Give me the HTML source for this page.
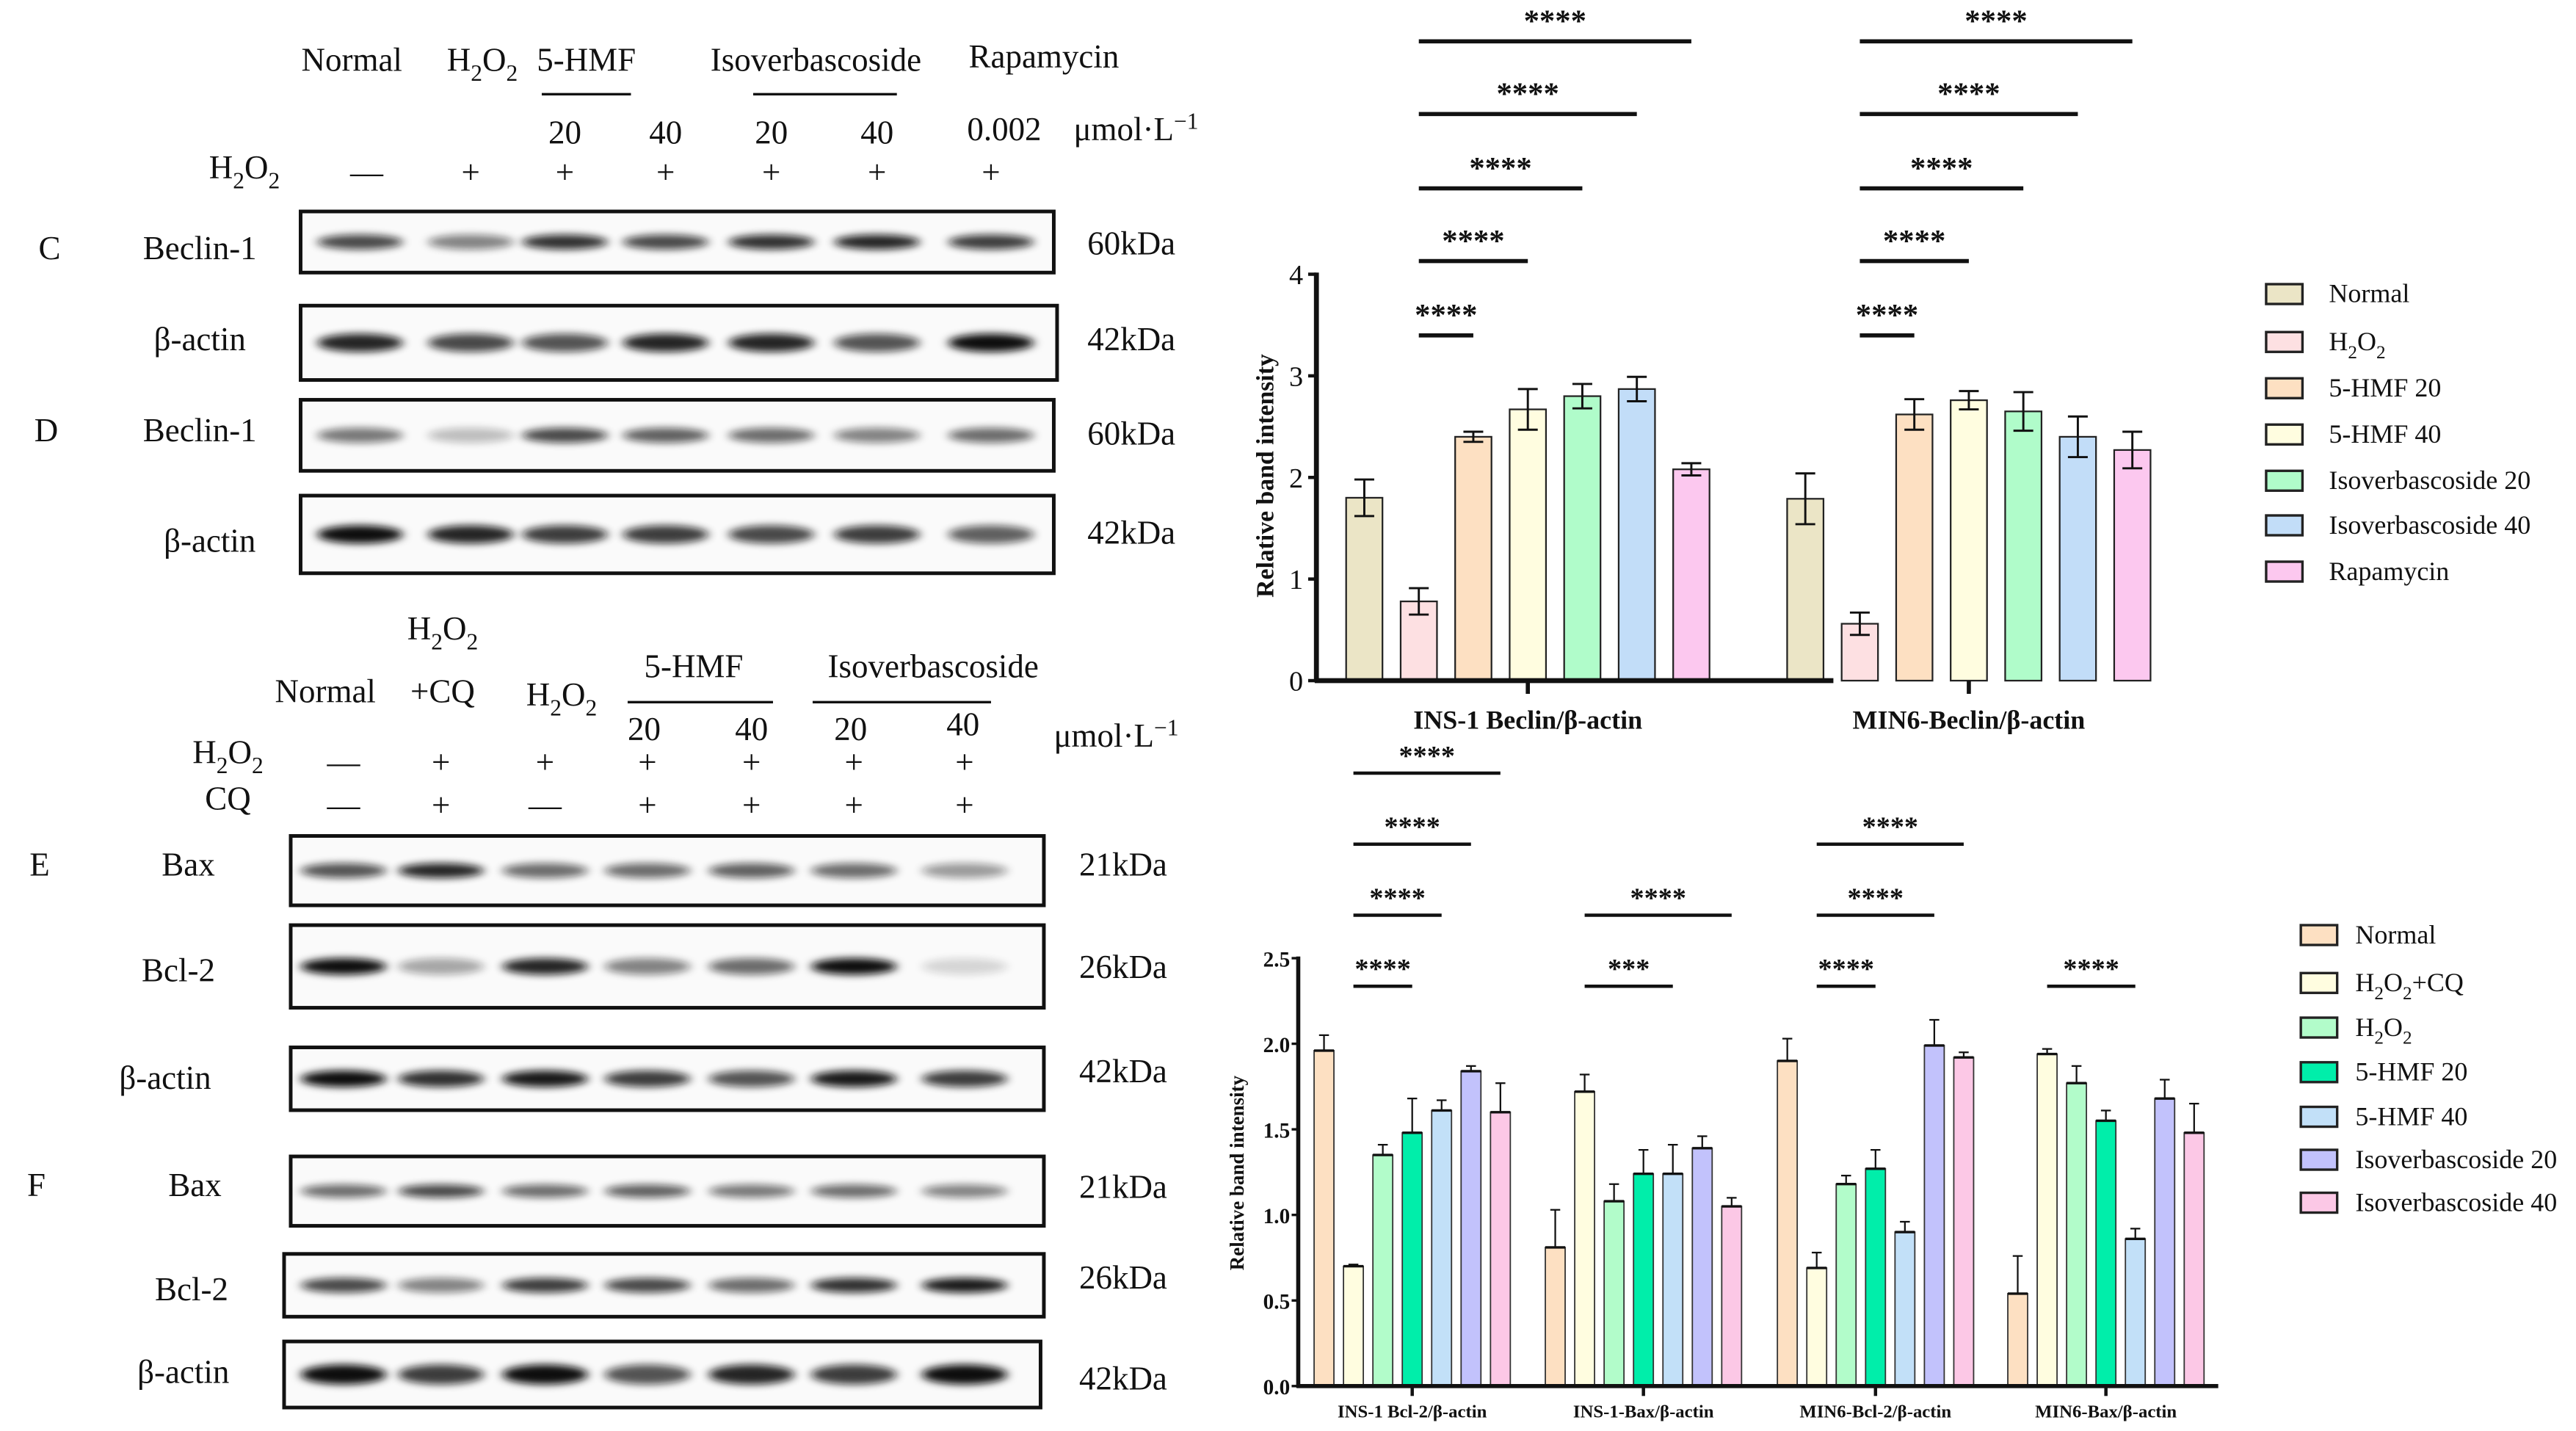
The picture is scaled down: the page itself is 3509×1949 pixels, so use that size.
<!DOCTYPE html>
<html><head><meta charset="utf-8"><style>
html,body{margin:0;padding:0;background:#fff;}
svg{display:block;}
svg text, svg tspan{font-family:"Liberation Serif","DejaVu Serif",serif;fill:#111;}
</style></head><body>
<svg id="fig" width="3509" height="1949" viewBox="0 0 1559.6 866.2" preserveAspectRatio="none" xmlns="http://www.w3.org/2000/svg" font-family="Liberation Serif, DejaVu Serif, serif">
<defs>
<filter id="blur" x="-50%" y="-200%" width="200%" height="500%"><feGaussianBlur stdDeviation="3 2.2"/></filter>
</defs>
<g id="blots"></g>
<g id="chart1"></g>
<g id="chart2"></g>
</svg>
<script>
// ---------- Chart 1 data ----------
const c1Categories = ["INS-1 Beclin/β-actin", "MIN6-Beclin/β-actin"];
const c1Series = ["Normal", "H2O2", "5-HMF 20", "5-HMF 40", "Isoverbascoside 20", "Isoverbascoside 40", "Rapamycin"];
const c1Values = [[1.80, 0.78, 2.40, 2.67, 2.80, 2.87, 2.08], [1.79, 0.56, 2.62, 2.76, 2.65, 2.40, 2.27]];
const c1Errors = [[0.18, 0.13, 0.05, 0.20, 0.12, 0.12, 0.06], [0.25, 0.11, 0.15, 0.09, 0.19, 0.20, 0.18]];
const c1Ticks = [0, 1, 2, 3, 4];
const c1Colors = ["#ebe5c6", "#fde0e2", "#fde0c2", "#fffde0", "#b0fcca", "#c2ddf8", "#fcc8ef"];
const c1Sig = [[1, 2, "****"], [1, 3, "****"], [1, 4, "****"], [1, 5, "****"], [1, 6, "****"]];

// ---------- Chart 2 data ----------
const c2Categories = ["INS-1 Bcl-2/β-actin", "INS-1-Bax/β-actin", "MIN6-Bcl-2/β-actin", "MIN6-Bax/β-actin"];
const c2Series = ["Normal", "H2O2+CQ", "H2O2", "5-HMF 20", "5-HMF 40", "Isoverbascoside 20", "Isoverbascoside 40"];
const c2Values = [[1.96, 0.70, 1.35, 1.48, 1.61, 1.84, 1.60], [0.81, 1.72, 1.08, 1.24, 1.24, 1.39, 1.05], [1.90, 0.69, 1.18, 1.27, 0.90, 1.99, 1.92], [0.54, 1.94, 1.77, 1.55, 0.86, 1.68, 1.48]];
const c2Errors = [[0.09, 0.01, 0.06, 0.20, 0.06, 0.03, 0.17], [0.22, 0.10, 0.10, 0.14, 0.17, 0.07, 0.05], [0.13, 0.09, 0.05, 0.11, 0.06, 0.15, 0.03], [0.22, 0.03, 0.10, 0.06, 0.06, 0.11, 0.17]];
const c2Ticks = [0, 0.5, 1.0, 1.5, 2.0, 2.5];
const c2Colors = ["#fde0c2", "#fffde0", "#b2fcca", "#00eeaa", "#c2e0f8", "#c2c2fc", "#fcc8e6"];
const c2Sig = [[0, 1, 3, "****"], [0, 1, 4, "****"], [0, 1, 5, "****"], [0, 1, 6, "****"], [1, 1, 4, "***"], [1, 1, 6, "****"], [2, 1, 3, "****"], [2, 1, 5, "****"], [2, 1, 6, "****"], [3, 1, 4, "****"]];

const NS = "http://www.w3.org/2000/svg";
const SERIF = '"Liberation Serif","DejaVu Serif",serif';
function mk(parent, tag, attrs, txt) {
  const e = document.createElementNS(NS, tag);
  if (tag === "text") e.setAttribute("style", "font-family:" + SERIF);
  for (const k in attrs) e.setAttribute(k, attrs[k]);
  if (txt !== undefined) e.textContent = txt;
  parent.appendChild(e);
  return e;
}
// parts: [text, isSub]
function subText(parent, x, y, parts, size, anchor) {
  const t = mk(parent, "text", {x: x, y: y, "font-size": size, "text-anchor": anchor || "middle"});
  const shift = size * 0.3;
  let cur = 0;
  parts.forEach(p => {
    const target = p[1] ? shift : 0;
    const a = {dy: target - cur, "font-size": p[1] ? size * 0.7 : size};
    cur = target;
    mk(t, "tspan", a, p[0]);
  });
  return t;
}
const H2O2 = [["H", 0], ["2", 1], ["O", 0], ["2", 1]];

// ---------- Chart 1 ----------
(function () {
  const g = document.getElementById("chart1");
  const x0 = 797, xEnd = 1110, y0 = 412, yTop = 166, yMax = 4;
  const centers = [925, 1192], step = 33, bw = 22;
  const yS = v => y0 - (v / yMax) * (y0 - yTop);
  const xS = (c, i) => centers[c] + (i - 3) * step;
  c1Categories.forEach((cat, c) => {
    c1Values[c].forEach((v, i) => {
      const b = mk(g, "rect", {x: xS(c, i) - bw / 2, y: yS(v), width: bw, height: y0 - yS(v), fill: c1Colors[i], stroke: "#222", "stroke-width": 1});
      
      
      const e = c1Errors[c][i], xc = xS(c, i);
      const eb = mk(g, "path", {d: `M${xc},${yS(v + e)}V${yS(v - e)}M${xc - 6},${yS(v + e)}H${xc + 6}M${xc - 6},${yS(v - e)}H${xc + 6}`, stroke: "#111", "stroke-width": 1.3, fill: "none"});
      
      
    });
    const lbl = mk(g, "text", {x: centers[c], y: 441, "font-size": 16, "font-weight": "bold", "text-anchor": "middle"}, cat);
    
    
    mk(g, "line", {x1: centers[c], x2: centers[c], y1: y0, y2: y0 + 8, stroke: "#111", "stroke-width": 2.5});
    const sigY = [203, 158, 114, 69, 25];
    c1Sig.forEach((s, k) => {
      const y = sigY[k], xa = xS(c, s[0]), xb = xS(c, s[1]);
      const l = mk(g, "line", {x1: xa, x2: xb, y1: y, y2: y, stroke: "#111", "stroke-width": 2.5});
      
      
      mk(g, "text", {x: (xa + xb) / 2, y: y - 6, "font-size": 19, "font-weight": "bold", "text-anchor": "middle"}, s[2]);
    });
  });
  mk(g, "line", {x1: x0, x2: x0, y1: yTop - 1, y2: y0 + 1, stroke: "#111", "stroke-width": 3});
  mk(g, "line", {x1: x0 - 1, x2: xEnd, y1: y0, y2: y0, stroke: "#111", "stroke-width": 3});
  c1Ticks.forEach(t => {
    mk(g, "line", {x1: x0 - 5, x2: x0, y1: yS(t), y2: yS(t), stroke: "#111", "stroke-width": 2});
    mk(g, "text", {x: x0 - 8, y: yS(t) + 6, "font-size": 17, "text-anchor": "end"}, String(t));
  });
  const yt = mk(g, "text", {x: 0, y: 0, "font-size": 15, "font-weight": "bold", "text-anchor": "middle", transform: "translate(771,288) rotate(-90)"}, "Relative band intensity");
  
  
  const ly = [178, 207, 235, 263, 291, 318, 346];
  c1Series.forEach((s, i) => {
    const le = mk(g, "rect", {x: 1372, y: ly[i] - 6, width: 22, height: 12, fill: c1Colors[i], stroke: "#222", "stroke-width": 1.5});
    
    
    if (s === "H2O2") subText(g, 1410, ly[i] + 5, H2O2, 16, "start");
    else mk(g, "text", {x: 1410, y: ly[i] + 5, "font-size": 16}, s);
  });
})();

// ---------- Chart 2 ----------
(function () {
  const g = document.getElementById("chart2");
  const x0 = 786, xEnd = 1343, y0 = 839, yTop = 580, yMax = 2.5;
  const centers = [855, 995, 1135.5, 1275], step = 17.8, bw = 12;
  const yS = v => y0 - (v / yMax) * (y0 - yTop);
  const xS = (c, i) => centers[c] + (i - 3) * step;
  c2Categories.forEach((cat, c) => {
    c2Values[c].forEach((v, i) => {
      const b = mk(g, "rect", {x: xS(c, i) - bw / 2, y: yS(v), width: bw, height: y0 - yS(v), fill: c2Colors[i], stroke: "#333", "stroke-width": 0.8});
      
      
      mk(g, "line", {x1: xS(c, i) - bw / 2, x2: xS(c, i) + bw / 2, y1: yS(v), y2: yS(v), stroke: "#111", "stroke-width": 1.5});
      const e = c2Errors[c][i], xc = xS(c, i);
      const eb = mk(g, "path", {d: `M${xc},${yS(v + e)}V${yS(v)}M${xc - 3},${yS(v + e)}H${xc + 3}`, stroke: "#111", "stroke-width": 1, fill: "none"});
      
      
    });
    const lbl = mk(g, "text", {x: centers[c], y: 858, "font-size": 11, "font-weight": "bold", "text-anchor": "middle"}, cat);
    
    
    mk(g, "line", {x1: centers[c], x2: centers[c], y1: y0, y2: y0 + 6, stroke: "#111", "stroke-width": 2});
  });
  const sigY = [597, 554, 511, 468];
  const level = {};
  c2Sig.forEach(s => {
    const c = s[0]; level[c] = (level[c] || 0);
    const y = sigY[level[c]]; level[c]++;
    const xa = xS(c, s[1]), xb = xS(c, s[2]);
    const l = mk(g, "line", {x1: xa, x2: xb, y1: y, y2: y, stroke: "#111", "stroke-width": 2});
    
    
    mk(g, "text", {x: (xa + xb) / 2, y: y - 5, "font-size": 17, "font-weight": "bold", "text-anchor": "middle"}, s[3]);
  });
  mk(g, "line", {x1: x0, x2: x0, y1: yTop - 1, y2: y0 + 1, stroke: "#111", "stroke-width": 2.5});
  mk(g, "line", {x1: x0 - 1, x2: xEnd, y1: y0, y2: y0, stroke: "#111", "stroke-width": 2.5});
  c2Ticks.forEach(t => {
    mk(g, "line", {x1: x0 - 4, x2: x0, y1: yS(t), y2: yS(t), stroke: "#111", "stroke-width": 1.5});
    mk(g, "text", {x: x0 - 5, y: yS(t) + 5, "font-size": 13, "font-weight": "bold", "text-anchor": "end"}, t.toFixed(1));
  });
  const yt = mk(g, "text", {x: 0, y: 0, "font-size": 12, "font-weight": "bold", "text-anchor": "middle", transform: "translate(753,710) rotate(-90)"}, "Relative band intensity");
  
  
  const ly = [566, 595, 622, 649, 676, 702, 728];
  c2Series.forEach((s, i) => {
    const le = mk(g, "rect", {x: 1393, y: ly[i] - 6, width: 22, height: 12, fill: c2Colors[i], stroke: "#222", "stroke-width": 1.5});
    
    
    if (s === "H2O2") subText(g, 1426, ly[i] + 5, H2O2, 16, "start");
    else if (s === "H2O2+CQ") subText(g, 1426, ly[i] + 5, H2O2.concat([["+CQ", 0]]), 16, "start");
    else mk(g, "text", {x: 1426, y: ly[i] + 5, "font-size": 16}, s);
  });
})();

// ---------- Western blots ----------
(function () {
  const g = document.getElementById("blots");
  const topLanes = [218, 285, 342, 403, 467, 531, 600];
  const botLanes = [208, 267, 330, 392, 455, 517, 584];
  const rows = [
    {x1: 182, x2: 638, y1: 128, y2: 165, lanes: topLanes, w: [0.75, 0.5, 0.85, 0.75, 0.85, 0.9, 0.8], h: 7, name: "blot-c-beclin1"},
    {x1: 182, x2: 640, y1: 185, y2: 230, lanes: topLanes, w: [0.9, 0.75, 0.7, 0.9, 0.9, 0.7, 1], h: 9, name: "blot-c-actin"},
    {x1: 182, x2: 638, y1: 242, y2: 285, lanes: topLanes, w: [0.55, 0.25, 0.75, 0.65, 0.6, 0.5, 0.6], h: 7, name: "blot-d-beclin1"},
    {x1: 182, x2: 638, y1: 300, y2: 347, lanes: topLanes, w: [1, 0.9, 0.8, 0.8, 0.75, 0.8, 0.65], h: 9, name: "blot-d-actin"},
    {x1: 176, x2: 632, y1: 506, y2: 548, lanes: botLanes, w: [0.7, 0.9, 0.6, 0.6, 0.65, 0.6, 0.4], h: 7, name: "blot-e-bax"},
    {x1: 176, x2: 632, y1: 560, y2: 610, lanes: botLanes, w: [1, 0.35, 0.9, 0.5, 0.6, 1, 0.15], h: 8, name: "blot-e-bcl2"},
    {x1: 176, x2: 632, y1: 634, y2: 672, lanes: botLanes, w: [1, 0.85, 0.95, 0.8, 0.7, 0.95, 0.8], h: 8, name: "blot-e-actin"},
    {x1: 176, x2: 632, y1: 700, y2: 742, lanes: botLanes, w: [0.6, 0.75, 0.6, 0.65, 0.55, 0.6, 0.5], h: 6, name: "blot-f-bax"},
    {x1: 172, x2: 632, y1: 759, y2: 797, lanes: botLanes, w: [0.75, 0.5, 0.8, 0.75, 0.6, 0.85, 0.95], h: 7, name: "blot-f-bcl2"},
    {x1: 172, x2: 630, y1: 812, y2: 852, lanes: botLanes, w: [1, 0.8, 1, 0.7, 0.9, 0.8, 1], h: 10, name: "blot-f-actin"}
  ];
  rows.forEach(r => {
    const box = mk(g, "rect", {x: r.x1, y: r.y1, width: r.x2 - r.x1, height: r.y2 - r.y1, fill: "#fafafa", stroke: "#111", "stroke-width": 2.2});
    
    
    const cy = (r.y1 + r.y2) / 2;
    r.lanes.forEach((lx, i) => {
      mk(g, "ellipse", {cx: lx, cy: cy, rx: 26, ry: r.h / 2 + 1, fill: "#111", opacity: r.w[i], filter: "url(#blur)"});
    });
  });
  const T = (x, y, s, size, anchor) => mk(g, "text", {x: x, y: y, "font-size": size || 20, "text-anchor": anchor || "middle"}, s);
  const H2 = (x, y, extra) => subText(g, x, y, H2O2.concat(extra || []), 20, "middle");
  // top header
  T(213, 43, "Normal"); H2(292, 43); T(355, 43, "5-HMF"); T(494, 43, "Isoverbascoside"); T(632, 41, "Rapamycin");
  mk(g, "line", {x1: 328, x2: 382, y1: 57, y2: 57, stroke: "#111", "stroke-width": 1.5});
  mk(g, "line", {x1: 456, x2: 543, y1: 57, y2: 57, stroke: "#111", "stroke-width": 1.5});
  T(342, 87, "20"); T(403, 87, "40"); T(467, 87, "20"); T(531, 87, "40"); T(608, 85, "0.002");
  const mu1 = mk(g, "text", {x: 650, y: 85, "font-size": 20}); mk(mu1, "tspan", {}, "μmol·L"); mk(mu1, "tspan", {"font-size": 14, dy: -7}, "−1");
  H2(148, 108);
  const s1 = ["—", "+", "+", "+", "+", "+", "+"];
  topLanes.forEach((x, i) => T(i === 0 ? 222 : x, 111, s1[i]));
  T(30, 157, "C"); T(121, 157, "Beclin-1"); T(121, 212, "β-actin"); T(28, 267, "D"); T(121, 267, "Beclin-1"); T(127, 334, "β-actin");
  [[154, "60kDa"], [212, "42kDa"], [269, "60kDa"], [329, "42kDa"]].forEach(a => T(685, a[0], a[1]));
  // bottom header
  H2(268, 387); T(268, 425, "+CQ"); T(197, 425, "Normal"); H2(340, 427); T(420, 410, "5-HMF"); T(565, 410, "Isoverbascoside");
  mk(g, "line", {x1: 380, x2: 468, y1: 425, y2: 425, stroke: "#111", "stroke-width": 1.5});
  mk(g, "line", {x1: 492, x2: 600, y1: 425, y2: 425, stroke: "#111", "stroke-width": 1.5});
  T(390, 448, "20"); T(455, 448, "40"); T(515, 448, "20"); T(583, 445, "40");
  const mu2 = mk(g, "text", {x: 638, y: 452, "font-size": 20}); mk(mu2, "tspan", {}, "μmol·L"); mk(mu2, "tspan", {"font-size": 14, dy: -7}, "−1");
  H2(138, 462); T(138, 490, "CQ");
  const s2 = ["—", "+", "+", "+", "+", "+", "+"], s3 = ["—", "+", "—", "+", "+", "+", "+"];
  botLanes.forEach((x, i) => { T(x, 468, s2[i]); T(x, 494, s3[i]); });
  T(24, 530, "E"); T(114, 530, "Bax"); T(108, 594, "Bcl-2"); T(100, 659, "β-actin");
  T(22, 724, "F"); T(118, 724, "Bax"); T(116, 787, "Bcl-2"); T(111, 837, "β-actin");
  [[530, "21kDa"], [592, "26kDa"], [655, "42kDa"], [725, "21kDa"], [780, "26kDa"], [841, "42kDa"]].forEach(a => T(680, a[0], a[1]));
})();
</script>
</body></html>
